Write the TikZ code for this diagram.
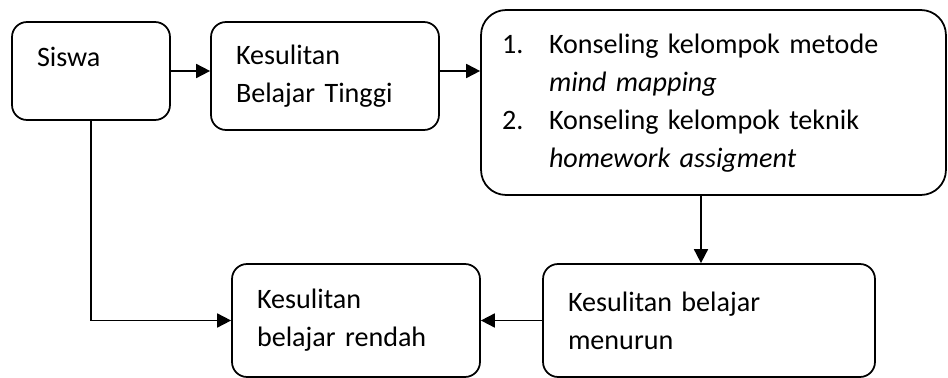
\documentclass[tikz,border=0pt]{standalone}
\usepackage{fontspec}
\setmainfont{Carlito}
\usetikzlibrary{calc}
\usetikzlibrary{arrows.meta}

\begin{document}
\begin{tikzpicture}[x=0.02cm, y=-0.02cm]
            \tikzstyle{box} = [draw, line width=1pt, rounded corners=0.3cm, align=left, inner xsep=0.5cm, inner ysep=0pt, font=\fontsize{16pt}{21.6pt}\selectfont]
            \tikzstyle{flow} = [line width=1pt, -{Triangle[length=0.28cm, width=0.28cm]}]
            \useasboundingbox (0, 0) rectangle (948, 378);
            \node[box, text width=2.16cm, minimum height=1.96cm, text depth=0.56cm] (siswa) at (91, 71) {Siswa};
            \node[box, text width=3.56cm, minimum height=2.16cm] (tinggi) at (325, 76) {Kesulitan\\Belajar Tinggi};
            \node[box, rounded corners=0.5cm, inner xsep=0.42cm, text width=8.46cm, minimum height=3.7cm] (konseling) at (713.5, 102.5) {%
                \begin{tabular}{@{}p{0.94cm}@{}l@{}}
                    1. & Konseling kelompok metode\\
                       & \textit{mind mapping}\\
                    2. & Konseling kelompok teknik\\
                       & \textit{homework assigment}
                \end{tabular}};
            \node[box, text width=3.96cm, minimum height=2.26cm] (rendah) at (356, 320.5) {Kesulitan\\belajar rendah};
            \node[box, text width=5.64cm, minimum height=2.26cm] (menurun) at (709, 320.5) {Kesulitan belajar\\menurun};
            \coordinate (drop) at ($(menurun.north) + (-8, 0)$);

            \draw[flow] (siswa.east) -- (siswa.east -| tinggi.west);
            \draw[flow] (tinggi.east |- siswa.east) -- (konseling.west |- siswa.east);
            \draw[flow] (drop |- konseling.south) -- (drop);
            \draw[flow] (menurun.west) -- (rendah.east);
            \draw[flow] (siswa.south) |- (rendah.west);
\end{tikzpicture}
\end{document}
